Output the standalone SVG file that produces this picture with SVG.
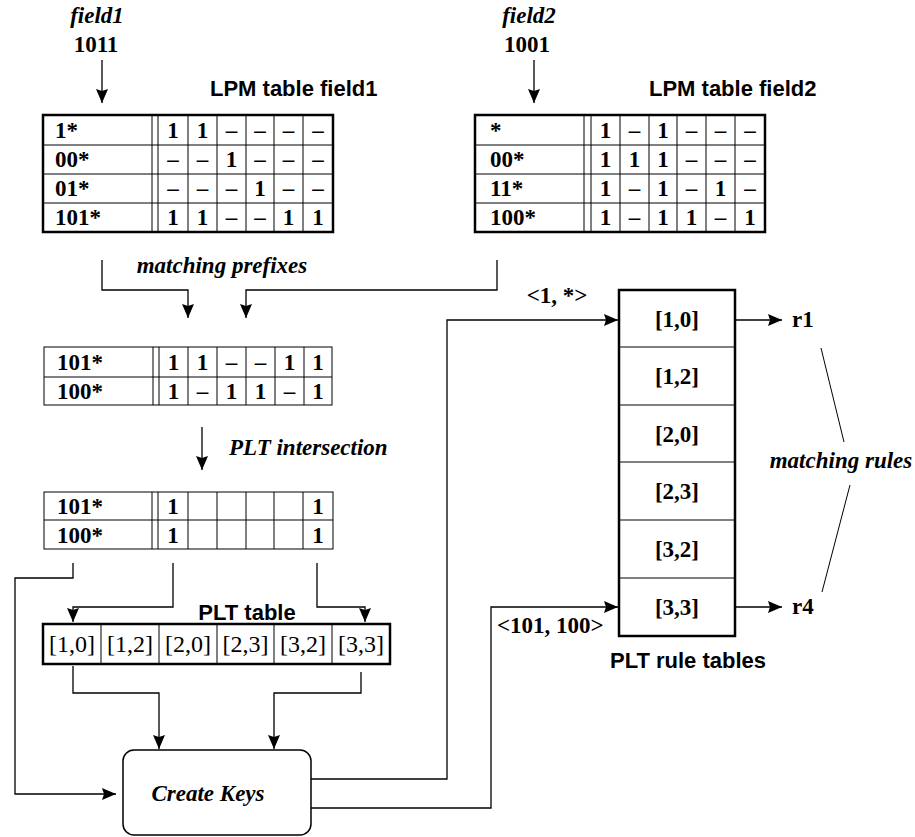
<svg xmlns="http://www.w3.org/2000/svg" width="915" height="837" viewBox="0 0 915 837">
<style>
.s{font-family:"Liberation Serif","Times New Roman",serif;font-size:23px;font-weight:bold;fill:#000}
.si{font-family:"Liberation Serif","Times New Roman",serif;font-size:23px;font-weight:bold;font-style:italic;fill:#000}
.sr{font-family:"Liberation Serif","Times New Roman",serif;font-size:24px;fill:#000}
.h{font-family:"Liberation Sans",Arial,sans-serif;font-size:22px;font-weight:bold;fill:#000}
.c{text-anchor:middle}
.thick{fill:none;stroke:#000;stroke-width:2.5}
.thin{fill:none;stroke:#000;stroke-width:1}
.grid{stroke:#000;stroke-width:1;fill:none}
.con{fill:none;stroke:#000;stroke-width:1.3}
</style>
<defs>
<marker id="ah" markerUnits="userSpaceOnUse" markerWidth="15" markerHeight="12" refX="14" refY="6" orient="auto">
<path d="M0,0 L14,6 L0,12 L2,6 Z" fill="#000"/>
</marker>
</defs>
<rect width="915" height="837" fill="#fff"/>

<g id="input1">
<text class="si c" x="97" y="23">field1</text>
<text class="s c" x="96" y="52">1011</text>
</g>
<g id="input2">
<text class="si c" x="529" y="23">field2</text>
<text class="s c" x="527" y="52">1001</text>
</g>

<g id="lpm1">
<text class="h" x="210" y="96">LPM table field1</text>
<rect class="thick" x="43" y="115" width="290" height="117"/>
<path class="grid" d="M43,145H333M43,174H333M43,203H333M152,115V232M158,115V232M188,115V232M217,115V232M246,115V232M274,115V232M303,115V232"/>
<text class="s" x="55" y="138">1*</text>
<text class="s" x="55" y="167">00*</text>
<text class="s" x="55" y="196">01*</text>
<text class="s" x="55" y="225">101*</text>
<g class="s c">
<text x="173" y="138">1</text><text x="202.5" y="138">1</text><text x="231.5" y="138">–</text><text x="260" y="138">–</text><text x="288.5" y="138">–</text><text x="318" y="138">–</text>
<text x="173" y="167">–</text><text x="202.5" y="167">–</text><text x="231.5" y="167">1</text><text x="260" y="167">–</text><text x="288.5" y="167">–</text><text x="318" y="167">–</text>
<text x="173" y="196">–</text><text x="202.5" y="196">–</text><text x="231.5" y="196">–</text><text x="260" y="196">1</text><text x="288.5" y="196">–</text><text x="318" y="196">–</text>
<text x="173" y="225">1</text><text x="202.5" y="225">1</text><text x="231.5" y="225">–</text><text x="260" y="225">–</text><text x="288.5" y="225">1</text><text x="318" y="225">1</text>
</g>
</g>

<g id="lpm2">
<text class="h" x="649" y="96">LPM table field2</text>
<rect class="thick" x="475" y="115" width="290" height="117"/>
<path class="grid" d="M475,145H765M475,174H765M475,203H765M584,115V232M591,115V232M620,115V232M649,115V232M677,115V232M706,115V232M735,115V232"/>
<text class="s" x="490" y="138">*</text>
<text class="s" x="490" y="167">00*</text>
<text class="s" x="490" y="196">11*</text>
<text class="s" x="490" y="225">100*</text>
<g class="s c">
<text x="605.5" y="138">1</text><text x="634.5" y="138">–</text><text x="663" y="138">1</text><text x="691.5" y="138">–</text><text x="720.5" y="138">–</text><text x="750" y="138">–</text>
<text x="605.5" y="167">1</text><text x="634.5" y="167">1</text><text x="663" y="167">1</text><text x="691.5" y="167">–</text><text x="720.5" y="167">–</text><text x="750" y="167">–</text>
<text x="605.5" y="196">1</text><text x="634.5" y="196">–</text><text x="663" y="196">1</text><text x="691.5" y="196">–</text><text x="720.5" y="196">1</text><text x="750" y="196">–</text>
<text x="605.5" y="225">1</text><text x="634.5" y="225">–</text><text x="663" y="225">1</text><text x="691.5" y="225">1</text><text x="720.5" y="225">–</text><text x="750" y="225">1</text>
</g>
</g>

<g id="matched">
<rect class="thin" x="44" y="347" width="288" height="58"/>
<path class="grid" d="M44,377H332M153,347V405M159,347V405M188,347V405M217,347V405M246,347V405M275,347V405M304,347V405"/>
<text class="s" x="57" y="370">101*</text>
<text class="s" x="57" y="399">100*</text>
<g class="s c">
<text x="173.5" y="370">1</text><text x="202.5" y="370">1</text><text x="231.5" y="370">–</text><text x="260.5" y="370">–</text><text x="289.5" y="370">1</text><text x="318" y="370">1</text>
<text x="173.5" y="399">1</text><text x="202.5" y="399">–</text><text x="231.5" y="399">1</text><text x="260.5" y="399">1</text><text x="289.5" y="399">–</text><text x="318" y="399">1</text>
</g>
</g>

<g id="intersection">
<rect class="thin" x="44" y="492" width="289" height="57"/>
<path class="grid" d="M44,520H333M152,492V549M158,492V549M188,492V549M217,492V549M246,492V549M274,492V549M303,492V549"/>
<text class="s" x="57" y="514">101*</text>
<text class="s" x="57" y="543">100*</text>
<g class="s c">
<text x="173" y="514">1</text><text x="318" y="514">1</text>
<text x="173" y="543">1</text><text x="318" y="543">1</text>
</g>
</g>

<g id="plt-table">
<text class="h c" x="247" y="620">PLT table</text>
<rect class="thick" x="43" y="624" width="347" height="40"/>
<path class="grid" d="M101,624V664M159,624V664M217,624V664M274,624V664M332,624V664"/>
<g class="sr c">
<text x="72" y="652">[1,0]</text><text x="130" y="652">[1,2]</text><text x="188" y="652">[2,0]</text><text x="245.5" y="652">[2,3]</text><text x="303" y="652">[3,2]</text><text x="361" y="652">[3,3]</text>
</g>
</g>

<g id="create-keys">
<rect x="123" y="750" width="188" height="85" rx="11" ry="11" fill="#fff" stroke="#000" stroke-width="1.5"/>
<text class="si c" x="208" y="801">Create Keys</text>
</g>

<g id="rule-tables">
<rect class="thick" x="619" y="290" width="116" height="346"/>
<path class="grid" d="M619,347H735M619,405H735M619,462H735M619,520H735M619,578H735"/>
<g class="s c">
<text x="677" y="327">[1,0]</text><text x="677" y="384">[1,2]</text><text x="677" y="442">[2,0]</text><text x="677" y="499">[2,3]</text><text x="677" y="557">[3,2]</text><text x="677" y="615">[3,3]</text>
</g>
<text class="h c" x="688" y="668">PLT rule tables</text>
</g>

<g id="results">
<text class="s" x="792" y="327">r1</text>
<text class="s" x="792" y="614">r4</text>
<text class="si c" x="841" y="468">matching rules</text>
</g>

<g id="labels">
<text class="si c" x="222" y="273">matching prefixes</text>
<text class="si" x="229" y="455">PLT intersection</text>
<text class="s c" x="557" y="303">&lt;1, *&gt;</text>
<text class="s" x="497" y="633">&lt;101, 100&gt;</text>
</g>

<g id="connectors">
<path class="con" d="M102,60V103" marker-end="url(#ah)"/>
<path class="con" d="M534,60V103" marker-end="url(#ah)"/>
<path class="con" d="M102,260V290H188V318" marker-end="url(#ah)"/>
<path class="con" d="M497,260V290H246V318" marker-end="url(#ah)"/>
<path class="con" d="M202,427V470" marker-end="url(#ah)"/>
<path class="con" d="M73,563V578H15V794H116" marker-end="url(#ah)"/>
<path class="con" d="M173,563V607H73V622" marker-end="url(#ah)"/>
<path class="con" d="M317,563V607H365V622" marker-end="url(#ah)"/>
<path class="con" d="M73,666V693H159V749" marker-end="url(#ah)"/>
<path class="con" d="M361,672V693H274V749" marker-end="url(#ah)"/>
<path class="con" d="M311,779H447V320H618" marker-end="url(#ah)"/>
<path class="con" d="M311,808H491V607H618" marker-end="url(#ah)"/>
<path class="con" d="M735,320H782" marker-end="url(#ah)"/>
<path class="con" d="M735,607H782" marker-end="url(#ah)"/>
<path class="thin" d="M821,348L844,442M850,485L822,592"/>
</g>
</svg>
